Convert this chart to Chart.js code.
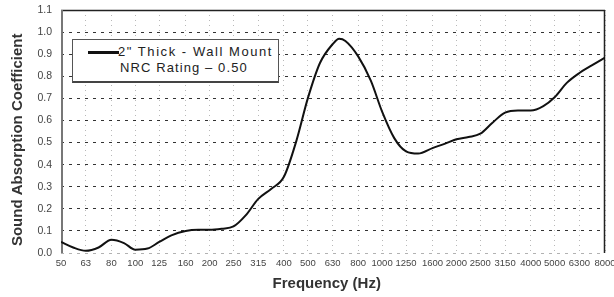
<!DOCTYPE html>
<html>
<head>
<meta charset="utf-8">
<script src="https://cdn.jsdelivr.net/npm/chart.js@4.4.1/dist/chart.umd.min.js"></script>
<style>
html,body{margin:0;padding:0;background:#fff;}
#wrap{position:relative;width:614px;height:297px;overflow:hidden;}
#c{position:absolute;left:0;top:0;}
#legend{position:absolute;left:72px;top:39px;width:207px;height:44px;box-sizing:border-box;border:1px solid #555;border-bottom:2px solid #444;background:#fff;font-family:"Liberation Sans",Arial,sans-serif;font-size:13px;color:#222;}
#legend .sample{position:absolute;left:15px;top:11px;width:31px;height:3px;background:#111;}
#legend .l1{position:absolute;left:45px;top:4px;white-space:nowrap;letter-spacing:1.55px;}
#legend .l2{position:absolute;left:47px;top:20px;white-space:nowrap;letter-spacing:1.1px;}
</style>
</head>
<body>
<div id="wrap">
<canvas id="c" width="614" height="297"></canvas>
<div id="legend"><div class="sample"></div><div class="l1">2" Thick - Wall Mount</div><div class="l2">NRC Rating – 0.50</div></div>
</div>
<script>
// Tick labels on the frequency axis (1/3-octave bands, Hz)
const freqTicks = [50,63,80,100,125,160,200,250,315,400,500,630,800,1000,1250,1600,2000,2500,3150,4000,5000,6300,8000];
// Frequencies at which the curve was read (Hz)
const freqs = [50,56,63,71,80,90,100,112,125,140,160,180,200,224,250,280,315,355,400,450,500,560,630,670,710,800,900,1000,1120,1250,1400,1600,1800,2000,2240,2500,2800,3150,3550,4000,4500,5000,5600,6300,7100,8000];
// Sound absorption coefficient
const absorption = [0.05,0.025,0.01,0.025,0.06,0.045,0.015,0.02,0.05,0.08,0.10,0.105,0.105,0.11,0.12,0.17,0.245,0.29,0.345,0.51,0.70,0.86,0.945,0.97,0.96,0.89,0.78,0.64,0.52,0.46,0.45,0.475,0.495,0.515,0.525,0.54,0.59,0.635,0.645,0.645,0.665,0.705,0.77,0.815,0.85,0.885];
const yTicksMax = 1.1;

const FONT = '"Liberation Sans", Arial, sans-serif';
const NARROW = '"Liberation Sans Narrow", "Liberation Sans", Arial, sans-serif';

const framePlugin = {
  id: 'frame',
  beforeDatasetsDraw(chart) {
    const {ctx, chartArea: a} = chart;
    ctx.save();
    ctx.setLineDash([]);
    ctx.strokeStyle = '#222';
    ctx.lineWidth = 1.5;
    ctx.beginPath();
    ctx.moveTo(a.left, a.top + 0.5); ctx.lineTo(a.right, a.top + 0.5);
    ctx.moveTo(a.right - 0.5, a.top); ctx.lineTo(a.right - 0.5, a.bottom);
    ctx.stroke();
    ctx.strokeStyle = '#777';
    ctx.lineWidth = 2;
    ctx.beginPath();
    ctx.moveTo(a.left + 1, a.top); ctx.lineTo(a.left + 1, a.bottom);
    ctx.stroke();
    ctx.restore();
  }
};

new Chart(document.getElementById('c'), {
  type: 'line',
  data: {
    datasets: [{
      data: freqs.map((f, i) => ({x: f, y: absorption[i]})),
      borderColor: '#111',
      borderWidth: 2,
      pointRadius: 0,
      cubicInterpolationMode: 'monotone',
      fill: false
    }]
  },
  options: {
    responsive: false,
    animation: false,
    devicePixelRatio: 1,
    layout: {padding: {left: 0, right: 9, top: 10, bottom: 0}},
    plugins: {legend: {display: false}, tooltip: {enabled: false}},
    scales: {
      x: {
        type: 'logarithmic',
        min: 50, max: 8000,
        afterBuildTicks(s) { s.ticks = freqTicks.map(v => ({value: v})); },
        afterFit(s) { s.height = 44; s.paddingLeft = 0; s.paddingRight = 0; },
        ticks: {
          autoSkip: false, maxRotation: 0, minRotation: 0, padding: 5,
          color: '#444',
          font: {family: NARROW, size: 9.5},
          callback: (v) => String(v)
        },
        grid: {color: 'rgba(0,0,0,0.28)', lineWidth: 1, drawTicks: false},
        border: {display: false, dash: [1, 4]},
        title: {
          display: true, text: 'Frequency (Hz)   ', color: '#333',
          font: {family: FONT, size: 15, weight: 'bold'},
          padding: {top: 0, bottom: 4}
        }
      },
      y: {
        min: 0, max: yTicksMax,
        afterFit(s) { s.width = 61; s.paddingTop = 0; s.paddingBottom = 0; },
        ticks: {
          stepSize: 0.1, padding: 9, color: '#444',
          font: {family: FONT, size: 10.5},
          callback: (v) => Number(v).toFixed(1)
        },
        grid: {
          color: (c) => (c.tick && c.tick.value < 0.05) ? 'rgba(0,0,0,0.3)' : 'rgba(0,0,0,0.8)',
          lineWidth: 1, drawTicks: false
        },
        border: {display: false, dash: [3, 5]},
        title: {
          display: true, text: 'Sound Absorption Coefficient    ', color: '#333',
          font: {family: FONT, size: 15, weight: 'bold'},
          padding: {top: 9, bottom: 0}
        }
      }
    }
  },
  plugins: [framePlugin]
});
</script>
</body>
</html>
